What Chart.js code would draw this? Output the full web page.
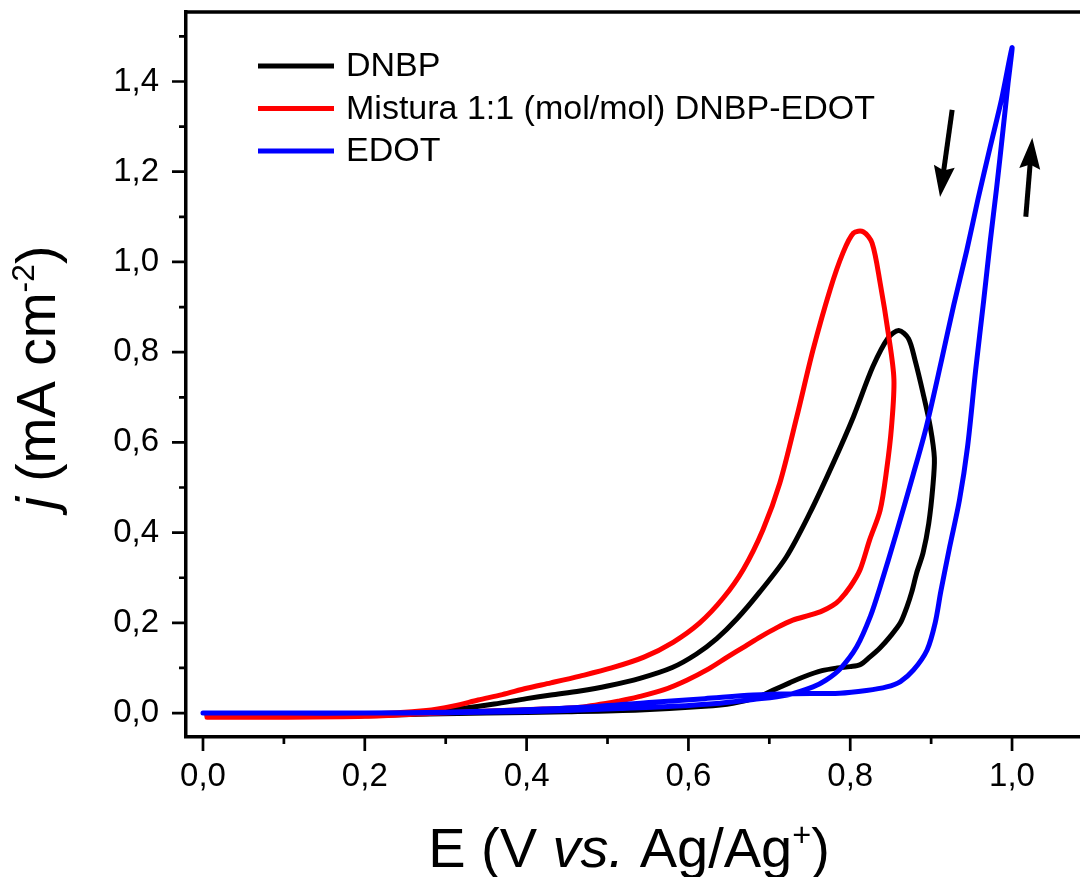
<!DOCTYPE html>
<html>
<head>
<meta charset="utf-8">
<title>Voltametria ciclica</title>
<script src="https://cdn.jsdelivr.net/npm/chart.js@4.4.1/dist/chart.umd.min.js"></script>
<style>
  html, body { margin: 0; padding: 0; background: #fff; }
  canvas { display: block; }
</style>
</head>
<body>
<canvas id="cvChart" width="1080" height="877"></canvas>
<script>
const FONT = "'Liberation Sans', Arial, Helvetica, sans-serif";

// DNBP: forward scan up to the vertex, then back
const dnbpE = [0.005, 0.10, 0.20, 0.28, 0.35, 0.45, 0.54, 0.62, 0.655, 0.685, 0.705, 0.725, 0.742, 0.765, 0.784, 0.800, 0.812, 0.824, 0.837, 0.849, 0.862, 0.870, 0.876, 0.882, 0.890, 0.897, 0.902, 0.904,
  0.899, 0.890, 0.880, 0.872, 0.860, 0.847, 0.828, 0.804, 0.779, 0.750, 0.721, 0.688, 0.660, 0.635, 0.610, 0.580, 0.540, 0.500, 0.466, 0.430, 0.400, 0.360, 0.320, 0.280, 0.200, 0.100, 0.005];
const dnbpJ = [-0.006, -0.007, -0.006, -0.002, 0.000, 0.003, 0.007, 0.015, 0.022, 0.035, 0.051, 0.067, 0.080, 0.094, 0.100, 0.103, 0.107, 0.124, 0.145, 0.169, 0.200, 0.235, 0.268, 0.310, 0.355, 0.420, 0.500, 0.565,
  0.634, 0.709, 0.783, 0.830, 0.848, 0.832, 0.768, 0.657, 0.554, 0.443, 0.346, 0.268, 0.209, 0.165, 0.131, 0.101, 0.077, 0.060, 0.049, 0.040, 0.032, 0.020, 0.010, 0.002, -0.003, -0.004, -0.004];

// 1:1 DNBP-EDOT mixture
const mixE = [0.005, 0.10, 0.20, 0.28, 0.36, 0.42, 0.466, 0.515, 0.54, 0.57, 0.598, 0.625, 0.648, 0.67, 0.689, 0.71, 0.729, 0.75, 0.765, 0.778, 0.787, 0.800, 0.812, 0.824, 0.837, 0.845, 0.851, 0.854,
  0.847, 0.837, 0.827, 0.816, 0.804, 0.791, 0.775, 0.754, 0.734, 0.713, 0.692, 0.668, 0.643, 0.614, 0.581, 0.545, 0.505, 0.466, 0.430, 0.400, 0.370, 0.340, 0.310, 0.276, 0.200, 0.100, 0.005];
const mixJ = [-0.009, -0.009, -0.007, -0.001, 0.005, 0.009, 0.013, 0.027, 0.037, 0.052, 0.073, 0.098, 0.124, 0.148, 0.169, 0.190, 0.206, 0.217, 0.226, 0.238, 0.251, 0.280, 0.317, 0.384, 0.450, 0.539, 0.634, 0.740,
  0.842, 0.953, 1.042, 1.067, 1.064, 1.020, 0.938, 0.805, 0.657, 0.510, 0.406, 0.319, 0.255, 0.200, 0.157, 0.124, 0.100, 0.082, 0.067, 0.055, 0.041, 0.029, 0.016, 0.006, -0.002, -0.004, -0.005];

// EDOT
const edotE = [0.0, 0.10, 0.20, 0.30, 0.39, 0.47, 0.556, 0.62, 0.68, 0.73, 0.787, 0.820, 0.845, 0.862, 0.878, 0.895, 0.905, 0.912, 0.923, 0.935, 0.945, 0.955, 0.965, 0.973, 0.981, 0.989, 0.995, 1.000,
  0.987, 0.973, 0.958, 0.944, 0.928, 0.913, 0.894, 0.878, 0.857, 0.837, 0.825, 0.808, 0.787, 0.770, 0.754, 0.722, 0.680, 0.639, 0.580, 0.515, 0.450, 0.390, 0.300, 0.200, 0.100, 0.0];
const edotJ = [0.0, 0.0, 0.0, 0.002, 0.007, 0.013, 0.024, 0.032, 0.040, 0.043, 0.044, 0.050, 0.058, 0.070, 0.095, 0.140, 0.200, 0.270, 0.369, 0.472, 0.590, 0.760, 0.915, 1.045, 1.165, 1.295, 1.395, 1.475,
  1.360, 1.255, 1.140, 1.025, 0.905, 0.783, 0.634, 0.530, 0.399, 0.280, 0.215, 0.147, 0.097, 0.073, 0.058, 0.040, 0.030, 0.022, 0.015, 0.010, 0.006, 0.003, 0.001, 0.000, 0.000, 0.000];

const seriesNames = ["DNBP", "Mistura 1:1 (mol/mol) DNBP-EDOT", "EDOT"];
const seriesColors = ["#000000", "#ff0000", "#0000ff"];

const eMajorTicks = [0.0, 0.2, 0.4, 0.6, 0.8, 1.0];
const eMinorTicks = [0.1, 0.3, 0.5, 0.7, 0.9];
const jMajorTicks = [0.0, 0.2, 0.4, 0.6, 0.8, 1.0, 1.2, 1.4];
const jMinorTicks = [0.1, 0.3, 0.5, 0.7, 0.9, 1.1, 1.3, 1.5];

// scan direction arrows: [E start, j start, E tip, j tip]
const arrowBack = [0.926, 1.337, 0.911, 1.144];
const arrowForward = [1.017, 1.100, 1.025, 1.275];

const toPoints = (xs, ys) => xs.map((x, i) => ({ x: x, y: ys[i] }));
const comma = v => v.toFixed(1).replace(".", ",");

function curve(idx, xs, ys, order) {
  return {
    label: seriesNames[idx],
    data: toPoints(xs, ys),
    borderColor: seriesColors[idx],
    backgroundColor: seriesColors[idx],
    borderWidth: 5,
    borderJoinStyle: "round",
    borderCapStyle: "round",
    showLine: true,
    pointRadius: 0,
    tension: 0.3,
    order: order
  };
}

// draw a run of text pieces (normal / italic / superscript) starting at x
function drawPieces(ctx, pieces, size, x, y) {
  for (const p of pieces) {
    const s = p.sup ? size * 0.58 : size;
    ctx.font = (p.italic ? "italic " : "") + s + "px " + FONT;
    ctx.fillText(p.t, x, p.sup ? y - size * 0.38 : y);
    x += ctx.measureText(p.t).width;
  }
}
function piecesWidth(ctx, pieces, size) {
  let w = 0;
  for (const p of pieces) {
    const s = p.sup ? size * 0.58 : size;
    ctx.font = (p.italic ? "italic " : "") + s + "px " + FONT;
    w += ctx.measureText(p.t).width;
  }
  return w;
}

function drawArrow(ctx, xs, ys, a) {
  const x0 = xs.getPixelForValue(a[0]), y0 = ys.getPixelForValue(a[1]);
  const x1 = xs.getPixelForValue(a[2]), y1 = ys.getPixelForValue(a[3]);
  const len = Math.hypot(x1 - x0, y1 - y0);
  const ux = (x1 - x0) / len, uy = (y1 - y0) / len;
  const head = 31, half = 10.5;
  ctx.lineWidth = 5;
  ctx.beginPath();
  ctx.moveTo(x0, y0);
  ctx.lineTo(x1 - ux * head * 0.8, y1 - uy * head * 0.8);
  ctx.stroke();
  const bx = x1 - ux * head, by = y1 - uy * head;
  ctx.beginPath();
  ctx.moveTo(x1, y1);
  ctx.lineTo(bx - uy * half, by + ux * half);
  ctx.lineTo(x1 - ux * head * 0.86, y1 - uy * head * 0.86);
  ctx.lineTo(bx + uy * half, by - ux * half);
  ctx.closePath();
  ctx.fill();
}

const frameAndNotes = {
  id: "frameAndNotes",
  afterDraw(chart) {
    const ctx = chart.ctx;
    const area = chart.chartArea;
    const xs = chart.scales.x, ys = chart.scales.y;
    ctx.save();
    ctx.strokeStyle = "#000";
    ctx.fillStyle = "#000";

    // top frame line
    ctx.lineWidth = 3.5;
    ctx.beginPath();
    ctx.moveTo(area.left - 1.75, area.top);
    ctx.lineTo(area.right, area.top);
    ctx.stroke();

    // outward tick marks
    ctx.lineWidth = 2.7;
    ctx.beginPath();
    eMajorTicks.forEach(v => { const p = xs.getPixelForValue(v); ctx.moveTo(p, area.bottom); ctx.lineTo(p, area.bottom + 14); });
    eMinorTicks.forEach(v => { const p = xs.getPixelForValue(v); ctx.moveTo(p, area.bottom); ctx.lineTo(p, area.bottom + 7); });
    jMajorTicks.forEach(v => { const p = ys.getPixelForValue(v); ctx.moveTo(area.left, p); ctx.lineTo(area.left - 14, p); });
    jMinorTicks.forEach(v => { const p = ys.getPixelForValue(v); ctx.moveTo(area.left, p); ctx.lineTo(area.left - 7, p); });
    ctx.stroke();

    // scan direction arrows
    drawArrow(ctx, xs, ys, arrowBack);
    drawArrow(ctx, xs, ys, arrowForward);

    // legend
    ctx.textBaseline = "middle";
    ctx.textAlign = "left";
    ctx.font = "34px " + FONT;
    chart.data.datasets.forEach((ds, i) => {
      const y = area.top + 54 + i * 42.5;
      ctx.strokeStyle = ds.borderColor;
      ctx.lineWidth = 5;
      ctx.beginPath();
      ctx.moveTo(area.left + 72, y);
      ctx.lineTo(area.left + 148, y);
      ctx.stroke();
      ctx.fillStyle = "#000";
      ctx.fillText(ds.label, area.left + 160, y + 1);
    });

    // axis titles
    ctx.textBaseline = "alphabetic";
    const xTitle = [{ t: "E (V " }, { t: "vs.", italic: true }, { t: " Ag/Ag" }, { t: "+", sup: true }, { t: ")" }];
    const xw = piecesWidth(ctx, xTitle, 56);
    drawPieces(ctx, xTitle, 56, (area.left + area.right) / 2 - xw / 2 - 4, 867);

    const yTitle = [{ t: "j", italic: true }, { t: " (mA cm" }, { t: "-2", sup: true }, { t: ")" }];
    const yw = piecesWidth(ctx, yTitle, 55);
    ctx.translate(55, (area.top + area.bottom) / 2 + 3);
    ctx.rotate(-Math.PI / 2);
    drawPieces(ctx, yTitle, 55, -yw / 2, 0);
    ctx.restore();
  }
};

new Chart(document.getElementById("cvChart"), {
  type: "scatter",
  data: {
    datasets: [
      curve(0, dnbpE, dnbpJ, 3),
      curve(1, mixE, mixJ, 2),
      curve(2, edotE, edotJ, 1)
    ]
  },
  options: {
    responsive: false,
    animation: false,
    devicePixelRatio: 1,
    events: [],
    layout: { padding: { top: 12, right: 0, bottom: 0, left: 0 } },
    plugins: { legend: { display: false }, tooltip: { enabled: false } },
    scales: {
      x: {
        type: "linear",
        min: -0.021,
        max: 1.084,
        afterBuildTicks: s => { s.ticks = eMajorTicks.map(v => ({ value: v })); },
        afterFit: s => { s.height = 140; s.paddingLeft = 0; s.paddingRight = 0; },
        grid: { display: false, drawTicks: false },
        border: { display: true, color: "#000", width: 3.5 },
        ticks: { color: "#000", font: { family: FONT, size: 33 }, padding: 20, maxRotation: 0, autoSkip: false, callback: v => comma(v) }
      },
      y: {
        type: "linear",
        min: -0.053,
        max: 1.554,
        afterBuildTicks: s => { s.ticks = jMajorTicks.map(v => ({ value: v })); },
        afterFit: s => { s.width = 186; s.paddingTop = 0; s.paddingBottom = 0; },
        grid: { display: false, drawTicks: false },
        border: { display: true, color: "#000", width: 3.5 },
        ticks: { color: "#000", font: { family: FONT, size: 33 }, padding: 27, autoSkip: false, callback: v => comma(v) }
      }
    }
  },
  plugins: [frameAndNotes]
});
</script>
</body>
</html>
